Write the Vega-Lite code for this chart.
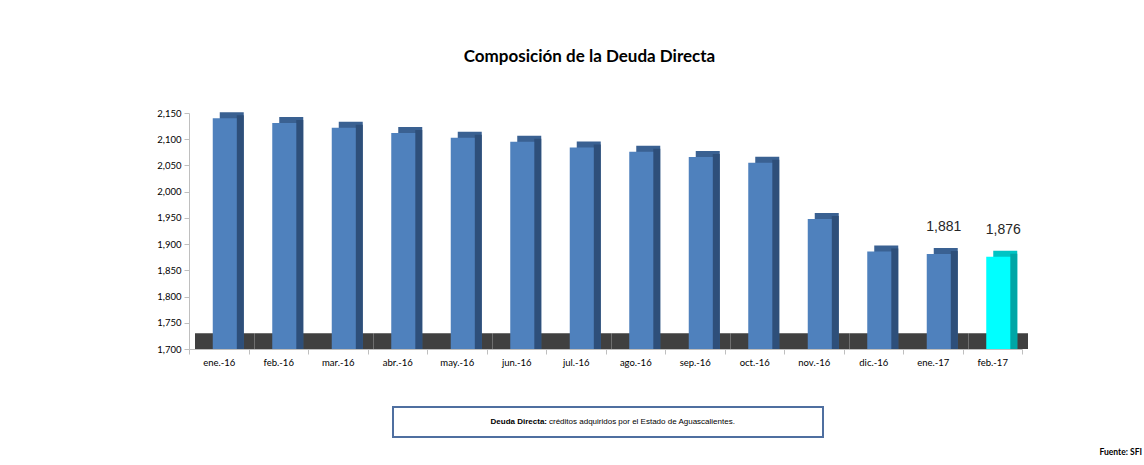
{
  "$schema": "https://vega.github.io/schema/vega-lite/v6.json",
  "background": "white",
  "padding": {"left": 156, "top": 48, "right": 0, "bottom": 0},
  "config": {"view": {"stroke": null}, "font": "Lato"},
  "title": {"text": "Fuente: SFI", "orient": "bottom", "anchor": "end", "font": "Lato", "fontSize": 8.5, "fontWeight": "bold", "color": "#000000", "dx": 114, "offset": 10},
  "spacing": 39,
  "vconcat": [
    {
      "width": 833,
      "height": 236,
      "title": {"text": "Composición de la Deuda Directa", "font": "Lato", "fontSize": 17, "fontWeight": "bold", "color": "#000000", "anchor": "middle", "dx": -16, "offset": 42},
      "data": {"values": [
        {"mes": "ene.-16", "valor": 2140},
        {"mes": "feb.-16", "valor": 2131},
        {"mes": "mar.-16", "valor": 2122},
        {"mes": "abr.-16", "valor": 2112},
        {"mes": "may.-16", "valor": 2103},
        {"mes": "jun.-16", "valor": 2095},
        {"mes": "jul.-16", "valor": 2084},
        {"mes": "ago.-16", "valor": 2076},
        {"mes": "sep.-16", "valor": 2066},
        {"mes": "oct.-16", "valor": 2055},
        {"mes": "nov.-16", "valor": 1948},
        {"mes": "dic.-16", "valor": 1886},
        {"mes": "ene.-17", "valor": 1881},
        {"mes": "feb.-17", "valor": 1876}
      ]},
      "encoding": {
        "x": {"field": "mes", "type": "nominal", "sort": null, "scale": {"paddingInner": 0, "paddingOuter": 0},
          "axis": {"title": null, "labelAngle": 0, "labelFont": "Lato", "labelFontSize": 9.5, "labelColor": "#000000", "domainColor": "#bfbfbf", "tickColor": "#bfbfbf", "tickBand": "extent", "tickSize": 5, "labelPadding": 3}},
        "y": {"field": "valor", "type": "quantitative", "scale": {"domain": [1700, 2150], "nice": false, "zero": false},
          "axis": {"title": null, "values": [1700, 1750, 1800, 1850, 1900, 1950, 2000, 2050, 2100, 2150], "format": ",d", "labelOverlap": false, "grid": false, "labelFont": "Lato", "labelFontSize": 9.5, "labelColor": "#000000", "domainColor": "#bfbfbf", "tickColor": "#bfbfbf", "tickSize": 5, "labelPadding": 3}}
      },
      "layer": [
        {
          "mark": {"type": "rect", "color": "#404040", "xOffset": 6},
          "encoding": {
            "y": {"datum": 1700, "type": "quantitative", "scale": {"domain": [1700, 2150], "nice": false, "zero": false},
              "axis": {"title": null, "values": [1700, 1750, 1800, 1850, 1900, 1950, 2000, 2050, 2100, 2150], "format": ",d", "labelOverlap": false, "grid": false, "labelFont": "Lato", "labelFontSize": 9.5, "labelColor": "#000000", "domainColor": "#bfbfbf", "tickColor": "#bfbfbf", "tickSize": 5, "labelPadding": 3}},
            "y2": {"datum": 1730}
          }
        },
        {
          "mark": {"type": "bar", "width": 24, "xOffset": 13, "yOffset": -6},
          "encoding": {
            "y2": {"datum": 1700},
            "color": {"condition": {"test": "datum.mes === 'feb.-17'", "value": "#00c4c4"}, "value": "#3a6192"}
          }
        },
        {
          "mark": {"type": "bar", "width": 7, "xOffset": 21.5, "yOffset": -3},
          "encoding": {
            "y2": {"datum": 1700},
            "color": {"condition": {"test": "datum.mes === 'feb.-17'", "value": "#00a6a6"}, "value": "#2e4f7a"}
          }
        },
        {
          "mark": {"type": "bar", "width": 24, "xOffset": 6},
          "encoding": {
            "y2": {"datum": 1700},
            "color": {"condition": {"test": "datum.mes === 'feb.-17'", "value": "#00ffff"}, "value": "#4f81bd"}
          }
        },
        {
          "transform": [{"filter": {"field": "mes", "oneOf": ["ene.-17", "feb.-17"]}}],
          "mark": {"type": "text", "font": "Liberation Sans", "fontSize": 14, "color": "#262626", "dx": 11, "dy": -27, "baseline": "middle"},
          "encoding": {
            "text": {"field": "valor", "type": "quantitative", "format": ",.0f"}
          }
        }
      ]
    },
    {
      "spacing": 0,
      "hconcat": [
        {
          "width": 203,
          "height": 30,
          "data": {"values": [{}]},
          "mark": {"type": "text"},
          "encoding": {"text": {"value": ""}}
        },
        {
          "width": 430,
          "height": 30,
          "view": {"stroke": "#4f6fa0", "strokeWidth": 2, "fill": "white"},
          "data": {"values": [{"negrita": "Deuda Directa:", "texto": "créditos adquiridos por el Estado de Aguascalientes."}]},
          "layer": [
            {"mark": {"type": "text", "font": "Liberation Sans", "fontSize": 8, "fontWeight": "bold", "align": "right", "dx": -61, "color": "#000000"}, "encoding": {"text": {"field": "negrita", "type": "nominal"}}},
            {"mark": {"type": "text", "font": "Liberation Sans", "fontSize": 8, "align": "left", "dx": -59, "color": "#000000"}, "encoding": {"text": {"field": "texto", "type": "nominal"}}}
          ]
        }
      ]
    }
  ]
}
